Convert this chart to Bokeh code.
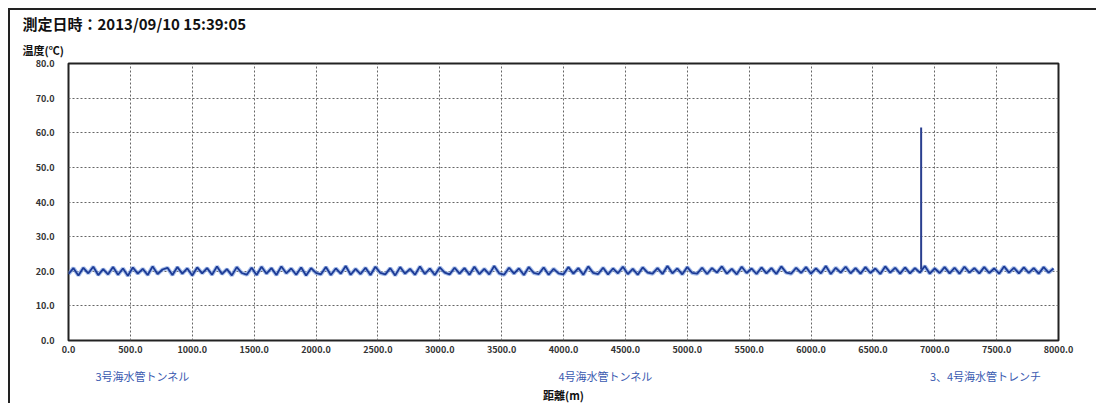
from bokeh.plotting import figure
from bokeh.models import Range1d, FixedTicker, PrintfTickFormatter, Title, LinearAxis
from bokeh.embed import file_html
from bokeh.resources import INLINE

# ---- data ----
title_text = "測定日時：2013/09/10 15:39:05"
y_title = "温度(℃)"
x_title = "距離(m)"
section_names = ["3号海水管トンネル", "4号海水管トンネル", "3、4号海水管トレンチ"]
section_pos = [598, 4339, 7410]

x_ticks = [0, 500, 1000, 1500, 2000, 2500, 3000, 3500, 4000, 4500, 5000,
           5500, 6000, 6500, 7000, 7500, 8000]
y_ticks = [0, 10, 20, 30, 40, 50, 60, 70, 80]

distance = list(range(0, 8000, 40))
temperature = [
    19.2, 20.9, 18.8, 21.0, 19.4, 21.3, 18.9, 20.6, 19.1, 21.2, 19.0, 20.8, 18.7, 21.1, 19.3, 20.7, 18.9, 21.4, 19.2, 20.5,
    21.0, 18.9, 21.2, 19.3, 20.8, 18.8, 21.1, 19.4, 20.9, 19.0, 21.4, 19.2, 20.6, 18.8, 21.2, 19.5, 19.0, 21.0, 18.9, 21.3,
    19.3, 20.9, 18.9, 21.4, 19.4, 20.8, 19.0, 21.1, 18.8, 20.9, 19.5, 19.1, 21.2, 18.9, 20.8, 19.3, 21.5, 19.0, 20.7, 19.2,
    21.0, 18.9, 21.3, 19.5, 19.1, 20.9, 18.8, 21.2, 19.3, 20.7, 19.0, 21.4, 19.2, 20.8, 18.9, 21.1, 19.6, 19.1, 21.0, 19.3,
    20.9, 19.0, 21.3, 19.2, 20.7, 19.1, 21.5, 19.4, 19.0, 21.0, 19.3, 20.8, 18.9, 21.2, 19.5, 19.2, 21.1, 19.0, 20.7, 19.4,
    19.1, 21.2, 19.3, 20.9, 19.0, 21.4, 19.5, 19.2, 21.0, 19.1, 20.8, 19.4, 21.3, 19.2, 20.7, 19.0, 21.1, 19.6, 19.3, 20.9,
    19.2, 21.5, 19.4, 20.8, 19.1, 21.2, 19.5, 19.3, 21.0, 19.2, 20.9, 19.6, 21.4, 19.3, 20.7, 19.1, 21.3, 19.5, 20.8, 19.2,
    21.1, 19.4, 20.9, 19.2, 21.4, 19.6, 19.3, 21.0, 19.5, 21.2, 19.3, 20.8, 19.4, 21.5, 19.2, 21.0, 19.6, 21.3, 19.4, 20.9,
    19.3, 21.2, 19.5, 20.8, 19.2, 21.4, 19.6, 21.0, 19.3, 21.1, 19.4, 20.9, 19.6, 21.5, 19.3, 20.8, 19.5, 21.2, 19.4, 21.0,
    19.3, 21.3, 19.6, 20.9, 19.4, 21.2, 19.5, 20.8, 19.3, 21.4, 19.6, 21.0, 19.4, 21.1, 19.5, 20.9, 19.3, 21.2, 19.6, 20.8,
]
spike_x = [6890, 6890]
spike_y = [20.5, 61.5]

JP = "Noto Sans CJK JP"

p = figure(width=1088, height=395, output_backend="svg", toolbar_location=None, title=None,
           x_range=Range1d(0, 8000), y_range=Range1d(0, 80),
           min_border_left=58, min_border_top=40, min_border_right=40, min_border_bottom=10)
p.styles = {"border-top": "2px solid #222", "border-left": "2px solid #222",
            "margin-left": "8px", "margin-top": "8px"}
p.background_fill_color = "white"
p.border_fill_color = "white"
p.outline_line_color = "#222"
p.outline_line_width = 2

# titles above (first added is closest to the frame)
p.add_layout(Title(text=y_title, align="left", offset=-46, text_font=JP, text_font_size="11px",
                   text_font_style="bold", text_color="#111", standoff=12), "above")
p.add_layout(Title(text=title_text, align="left", offset=-46, text_font=JP, text_font_size="15px",
                   text_font_style="bold", text_color="#111", standoff=0), "above")

for ax in (p.xaxis[0], p.yaxis[0]):
    ax.axis_line_color = None
    ax.major_tick_in = 0
    ax.major_tick_out = 0
    ax.minor_tick_line_color = None
    ax.formatter = PrintfTickFormatter(format="%.1f")
    ax.major_label_text_font = JP
    ax.major_label_text_font_size = "9px"
    ax.major_label_text_font_style = "bold"
    ax.major_label_text_color = "#333"

p.xaxis[0].ticker = FixedTicker(ticks=x_ticks)
p.yaxis[0].ticker = FixedTicker(ticks=y_ticks)
p.xaxis[0].major_label_standoff = 5
p.yaxis[0].major_label_standoff = 14

# section names + axis title on a second axis below
sec_axis = LinearAxis(ticker=FixedTicker(ticks=section_pos),
                      major_label_overrides={pos: name for pos, name in zip(section_pos, section_names)})
sec_axis.axis_line_color = None
sec_axis.major_tick_in = 0
sec_axis.major_tick_out = 0
sec_axis.minor_tick_line_color = None
sec_axis.major_label_text_font = JP
sec_axis.major_label_text_font_size = "11px"
sec_axis.major_label_text_color = "#3a5ab0"
sec_axis.major_label_standoff = 12
sec_axis.axis_label = x_title
sec_axis.axis_label_text_font = JP
sec_axis.axis_label_text_font_size = "11px"
sec_axis.axis_label_text_font_style = "bold"
sec_axis.axis_label_text_color = "#111"
sec_axis.axis_label_standoff = 0
p.add_layout(sec_axis, "below")

p.xgrid.ticker = FixedTicker(ticks=x_ticks[1:-1])
p.ygrid.ticker = FixedTicker(ticks=y_ticks[1:-1])
for g in (p.xgrid[0], p.ygrid[0]):
    g.grid_line_color = "#666"
    g.grid_line_dash = "2 2"
    g.grid_line_width = 1

p.line(distance, temperature, line_color="#7fa0e0", line_width=4, line_alpha=0.7)
p.line(distance, temperature, line_color="#1c3b96", line_width=1.8)
p.line(spike_x, spike_y, line_color="#2a3f8f", line_width=2)

open("out.html", "w").write(file_html(p, INLINE))
